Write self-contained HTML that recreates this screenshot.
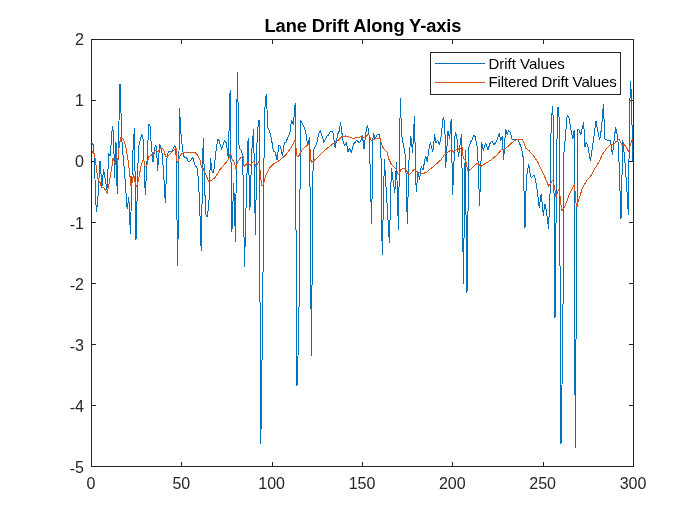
<!DOCTYPE html><html><head><meta charset="utf-8"><title>Lane Drift Along Y-axis</title>
<style>html,body{margin:0;padding:0;background:#fff;}body{width:700px;height:525px;overflow:hidden;}svg{display:block;}text{font-family:"Liberation Sans",Arial,Helvetica,sans-serif;}</style></head><body>
<svg width="700" height="525" viewBox="0 0 700 525">
<rect x="0" y="0" width="700" height="525" fill="#ffffff"/>
<rect x="91" y="39" width="543" height="1" fill="#262626"/>
<rect x="91" y="466" width="543" height="1" fill="#262626"/>
<rect x="91" y="39" width="1" height="428" fill="#262626"/>
<rect x="633" y="39" width="1" height="428" fill="#262626"/>
<rect x="91" y="462" width="1" height="5" fill="#262626"/>
<rect x="91" y="39" width="1" height="5" fill="#262626"/>
<rect x="181" y="462" width="1" height="5" fill="#262626"/>
<rect x="181" y="39" width="1" height="5" fill="#262626"/>
<rect x="272" y="462" width="1" height="5" fill="#262626"/>
<rect x="272" y="39" width="1" height="5" fill="#262626"/>
<rect x="362" y="462" width="1" height="5" fill="#262626"/>
<rect x="362" y="39" width="1" height="5" fill="#262626"/>
<rect x="452" y="462" width="1" height="5" fill="#262626"/>
<rect x="452" y="39" width="1" height="5" fill="#262626"/>
<rect x="543" y="462" width="1" height="5" fill="#262626"/>
<rect x="543" y="39" width="1" height="5" fill="#262626"/>
<rect x="633" y="462" width="1" height="5" fill="#262626"/>
<rect x="633" y="39" width="1" height="5" fill="#262626"/>
<rect x="91" y="39" width="5" height="1" fill="#262626"/>
<rect x="629" y="39" width="5" height="1" fill="#262626"/>
<rect x="91" y="100" width="5" height="1" fill="#262626"/>
<rect x="629" y="100" width="5" height="1" fill="#262626"/>
<rect x="91" y="161" width="5" height="1" fill="#262626"/>
<rect x="629" y="161" width="5" height="1" fill="#262626"/>
<rect x="91" y="222" width="5" height="1" fill="#262626"/>
<rect x="629" y="222" width="5" height="1" fill="#262626"/>
<rect x="91" y="283" width="5" height="1" fill="#262626"/>
<rect x="629" y="283" width="5" height="1" fill="#262626"/>
<rect x="91" y="344" width="5" height="1" fill="#262626"/>
<rect x="629" y="344" width="5" height="1" fill="#262626"/>
<rect x="91" y="405" width="5" height="1" fill="#262626"/>
<rect x="629" y="405" width="5" height="1" fill="#262626"/>
<rect x="91" y="466" width="5" height="1" fill="#262626"/>
<rect x="629" y="466" width="5" height="1" fill="#262626"/>
<defs><clipPath id="c"><rect x="91" y="39" width="543" height="428"/></clipPath></defs>
<g clip-path="url(#c)" shape-rendering="crispEdges" fill="none" stroke-linejoin="miter" stroke-miterlimit="1.5">
<polyline points="92.0,143.4 93.4,145.1 94.0,154.0 96.3,212.0 97.6,203.0 100.0,160.8 102.0,186.6 103.5,168.8 106.9,190.0 108.8,153.3 110.3,156.3 111.4,138.3 112.5,126.1 113.6,134.4 114.5,178.0 116.0,142.0 117.2,193.8 118.4,143.2 120.0,84.0 121.3,122.0 122.3,151.0 123.4,157.4 127.2,209.0 128.8,197.0 130.4,233.8 132.5,158.4 134.4,128.0 136.0,240.0 138.4,148.0 141.6,134.1 143.2,139.2 145.3,195.4 148.8,124.0 150.1,126.4 151.2,144.0 153.0,162.0 155.2,145.6 156.5,147.2 157.6,170.6 159.7,144.0 161.9,152.0 163.5,170.0 165.3,203.4 167.1,155.4 168.3,152.0 170.0,151.0 171.8,151.5 173.4,148.0 174.6,145.7 175.9,147.4 177.7,266.0 179.5,108.0 181.3,139.0 183.1,152.5 184.0,156.8 187.2,158.4 188.5,162.0 190.4,160.8 192.8,157.6 195.0,165.0 197.6,169.0 199.4,198.0 201.2,251.0 203.2,138.4 205.6,214.0 207.2,217.0 208.8,206.0 210.4,158.4 212.0,171.0 213.6,173.2 215.5,155.0 217.6,139.2 219.2,140.8 221.6,149.6 224.5,140.0 226.4,143.0 228.3,158.0 230.1,90.3 231.9,232.0 233.7,183.0 235.5,242.0 237.3,72.0 239.1,148.0 240.9,150.0 242.7,155.0 244.5,267.0 246.3,196.0 248.1,138.4 249.9,210.0 251.8,150.0 253.6,129.0 255.4,235.0 257.2,133.0 259.0,120.3 260.8,444.0 262.6,320.0 264.4,114.0 266.2,94.0 268.0,128.0 269.8,132.0 271.6,140.0 273.4,151.0 275.2,152.0 277.1,160.0 278.9,145.0 280.7,147.0 282.5,156.0 284.3,143.0 286.1,142.0 287.9,137.0 289.7,134.0 291.5,120.0 293.3,125.0 295.2,103.0 297.0,386.0 298.8,332.0 300.6,120.0 302.4,124.0 304.2,127.0 306.0,134.0 307.8,146.0 309.6,137.4 311.4,356.0 313.2,151.0 315.0,147.0 316.8,143.0 318.6,134.0 320.4,130.6 324.0,142.4 327.2,135.2 328.0,136.0 330.4,131.2 332.8,132.0 334.4,142.4 335.2,148.0 337.6,134.4 339.2,131.2 340.5,122.4 341.6,130.4 343.2,142.4 344.8,145.6 346.4,142.4 348.0,152.0 349.6,148.0 351.2,152.8 353.6,144.0 355.2,142.4 356.8,140.0 359.2,143.2 360.8,140.8 362.4,135.2 364.0,148.8 365.6,134.4 367.2,125.6 368.8,130.4 369.6,148.8 371.6,223.6 373.1,132.8 374.4,136.0 375.2,139.2 376.8,135.2 379.2,134.4 380.8,140.8 382.2,255.4 384.4,159.0 386.4,193.2 389.4,243.0 391.4,167.6 394.8,193.2 396.5,162.0 398.4,230.0 400.3,98.4 401.6,135.0 403.2,144.0 405.6,156.8 407.3,223.5 409.0,160.0 410.8,136.0 412.6,153.0 414.4,116.0 416.2,192.4 418.0,172.4 419.6,180.0 421.2,166.0 423.0,170.0 425.6,156.0 427.2,162.0 428.8,150.0 430.4,142.4 432.8,152.0 434.7,134.4 436.0,143.2 437.6,140.0 439.2,144.8 440.8,139.2 443.2,117.6 444.8,122.4 445.6,168.4 448.0,131.2 449.6,139.2 451.2,119.2 452.6,194.8 455.2,132.0 456.8,136.0 458.4,157.0 460.0,145.6 461.6,133.6 463.4,284.0 465.2,150.0 467.0,293.0 468.8,148.0 470.6,142.0 472.2,140.0 473.6,135.2 475.2,136.8 477.6,148.8 479.6,205.5 481.6,142.4 483.2,150.4 485.6,143.2 488.0,149.6 490.4,142.4 492.0,140.8 493.6,144.8 496.0,142.4 499.2,133.6 500.8,140.8 502.4,136.0 503.6,160.4 505.6,128.8 507.2,134.4 508.8,130.4 510.4,132.8 512.0,139.2 514.4,139.2 517.6,139.2 520.8,146.4 522.0,151.0 523.1,157.0 525.0,227.6 526.4,177.2 528.8,163.6 529.6,171.2 531.2,178.0 534.4,174.8 536.8,186.8 539.2,207.6 541.2,194.0 543.4,216.0 544.8,203.6 546.4,210.8 548.5,228.5 550.2,190.0 551.2,120.0 552.8,106.4 553.6,140.8 555.0,318.0 556.8,150.0 557.6,107.2 558.4,108.0 559.2,120.0 561.0,444.0 562.8,338.0 564.0,152.0 565.6,134.4 567.2,115.2 568.8,116.8 571.2,131.2 572.8,139.2 574.1,130.4 575.2,448.0 577.6,128.8 579.2,130.4 580.8,134.4 582.4,127.2 583.7,122.4 584.8,147.2 586.4,142.4 588.0,147.2 590.4,161.0 593.6,139.2 596.0,120.6 597.6,130.4 599.6,140.0 601.6,128.0 603.4,104.0 604.8,139.0 606.8,140.0 610.4,140.0 612.5,155.0 615.6,127.2 617.0,134.0 618.4,144.8 621.0,219.0 622.8,140.5 624.8,160.0 626.6,185.0 628.4,215.0 629.6,107.0 630.8,81.0 633.0,161.0" stroke="#0072BD" stroke-width="1"/>
<polyline points="92.0,151.7 94.4,153.6 96.0,164.8 97.6,177.6 98.9,181.6 100.0,182.4 101.6,188.0 103.2,187.2 105.6,190.4 107.2,193.6 109.6,180.8 112.0,166.4 112.8,157.6 114.4,162.4 116.8,156.0 117.6,164.8 119.2,145.6 120.8,137.6 123.2,139.2 125.6,145.6 128.0,160.0 129.6,172.8 131.2,187.2 133.6,174.4 135.2,182.4 136.8,187.2 139.2,176.0 141.0,166.0 142.7,160.6 143.8,160.2 144.8,166.0 145.8,166.4 146.9,165.7 147.9,160.6 148.6,156.5 150.6,155.8 152.7,154.1 154.7,151.7 155.8,150.3 157.5,151.3 158.5,151.0 159.9,148.9 160.9,148.2 162.6,148.6 163.7,150.3 164.7,153.7 165.7,156.5 167.1,156.5 168.1,155.8 171.9,152.0 176.0,148.0 176.8,160.0 177.6,163.2 179.2,158.4 180.8,154.4 183.2,152.8 195.2,152.8 197.6,155.2 200.0,160.0 201.6,167.2 203.2,168.8 205.6,174.4 208.8,181.6 212.0,180.0 215.2,177.6 220.0,169.6 224.0,164.8 228.0,160.0 229.6,156.0 230.4,152.8 232.0,159.2 234.4,162.4 236.0,168.8 237.3,162.4 240.0,158.4 243.2,156.0 244.0,166.4 246.4,164.0 248.0,162.4 250.4,165.6 253.6,160.8 256.0,166.4 259.2,160.8 260.0,170.4 261.6,185.6 263.2,184.8 265.6,176.0 269.6,168.0 274.4,163.2 277.6,161.6 280.8,159.2 285.6,155.2 290.4,148.8 295.2,140.0 296.8,156.0 298.4,156.8 301.6,150.4 305.6,146.4 307.2,145.6 309.6,144.0 310.4,153.6 311.2,162.4 313.6,160.8 316.8,158.4 320.0,155.2 324.8,150.4 329.6,146.4 333.6,143.2 337.6,140.8 341.6,136.8 345.6,136.0 350.4,137.6 353.6,138.4 356.8,137.6 361.6,136.8 364.8,137.6 368.0,134.4 369.6,135.2 371.2,140.8 374.4,139.2 377.6,138.4 380.0,138.4 381.6,144.0 383.2,148.0 387.2,152.0 388.8,159.2 391.2,164.0 394.4,167.2 396.8,170.4 398.4,175.2 400.8,169.6 404.0,168.0 406.4,170.4 408.8,175.2 411.2,172.8 414.4,168.8 416.0,171.2 419.2,172.8 422.4,173.6 426.4,172.5 429.6,169.6 434.4,165.6 440.8,160.0 444.0,155.2 447.2,152.8 451.2,149.6 453.6,152.0 456.8,149.6 460.0,148.5 462.4,147.2 463.2,158.4 465.6,160.0 468.0,171.2 471.2,168.8 475.2,164.8 477.6,163.2 479.2,164.8 480.8,166.4 483.2,164.8 487.2,162.4 492.0,159.2 496.8,155.2 501.6,149.6 504.0,149.6 508.0,146.4 512.0,142.4 516.0,140.0 519.2,139.5 522.4,140.0 524.0,143.2 525.6,148.0 529.6,151.2 533.6,156.0 537.6,161.6 540.8,168.8 544.0,175.2 547.2,182.4 548.8,186.4 551.2,182.4 552.8,180.0 554.4,186.4 556.0,196.8 557.6,192.0 559.2,188.8 560.8,203.2 561.8,211.0 564.0,208.0 566.4,202.4 569.6,193.6 572.8,187.2 574.4,184.0 576.0,203.2 576.8,206.4 579.2,198.4 582.4,188.0 587.2,180.0 592.0,174.4 595.2,168.0 599.2,161.6 602.4,154.4 606.4,148.8 610.4,144.8 613.6,144.8 616.0,141.6 619.2,139.2 621.6,144.0 624.0,144.0 626.4,147.2 628.8,152.0 630.4,144.0 632.5,139.4" stroke="#D95319" stroke-width="1"/>
</g>
<text x="91.00" y="488.5" font-size="16" fill="#262626" text-anchor="middle">0</text>
<text x="181.33" y="488.5" font-size="16" fill="#262626" text-anchor="middle">50</text>
<text x="271.67" y="488.5" font-size="16" fill="#262626" text-anchor="middle">100</text>
<text x="362.00" y="488.5" font-size="16" fill="#262626" text-anchor="middle">150</text>
<text x="452.33" y="488.5" font-size="16" fill="#262626" text-anchor="middle">200</text>
<text x="542.67" y="488.5" font-size="16" fill="#262626" text-anchor="middle">250</text>
<text x="633.00" y="488.5" font-size="16" fill="#262626" text-anchor="middle">300</text>
<text x="84" y="45.30" font-size="16" fill="#262626" text-anchor="end">2</text>
<text x="84" y="106.30" font-size="16" fill="#262626" text-anchor="end">1</text>
<text x="84" y="167.30" font-size="16" fill="#262626" text-anchor="end">0</text>
<text x="84" y="229.40" font-size="16" fill="#262626" text-anchor="end"><tspan dy="0.6">-</tspan><tspan dy="-0.6">1</tspan></text>
<text x="84" y="290.40" font-size="16" fill="#262626" text-anchor="end"><tspan dy="0.6">-</tspan><tspan dy="-0.6">2</tspan></text>
<text x="84" y="351.40" font-size="16" fill="#262626" text-anchor="end"><tspan dy="0.6">-</tspan><tspan dy="-0.6">3</tspan></text>
<text x="84" y="412.40" font-size="16" fill="#262626" text-anchor="end"><tspan dy="0.6">-</tspan><tspan dy="-0.6">4</tspan></text>
<text x="84" y="473.40" font-size="16" fill="#262626" text-anchor="end"><tspan dy="0.6">-</tspan><tspan dy="-0.6">5</tspan></text>
<text x="363" y="32" font-size="18.3" font-weight="bold" fill="#000" text-anchor="middle" textLength="196.9" lengthAdjust="spacing">Lane Drift Along Y-axis</text>
<rect x="430.5" y="52.5" width="190" height="42" fill="#fff" stroke="#262626" stroke-width="1"/>
<rect x="435" y="63" width="50" height="1" fill="#0072BD"/>
<rect x="435" y="82" width="50" height="1" fill="#D95319"/>
<text x="488.4" y="68.5" font-size="15" fill="#000">Drift Values</text>
<text x="488.4" y="86.5" font-size="15" fill="#000" textLength="128.4" lengthAdjust="spacing">Filtered Drift Values</text>
</svg></body></html>
